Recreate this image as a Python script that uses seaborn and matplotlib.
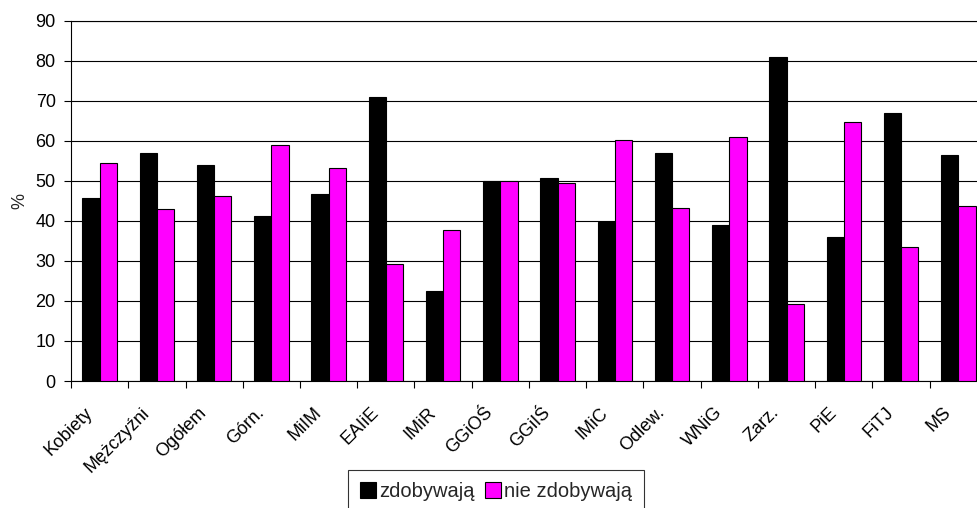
import pandas as pd
import seaborn as sns
import matplotlib.pyplot as plt
from matplotlib.ticker import FixedLocator
from matplotlib.transforms import ScaledTranslation

categories = ["Kobiety", "Mężczyźni", "Ogółem", "Górn.", "MiIM", "EAIiE", "IMiR", "GGiOŚ",
              "GGiIŚ", "IMiC", "Odlew.", "WNiG", "Zarz.", "PiE", "FiTJ", "MS"]
zdobywaja = [45.7, 56.9, 53.9, 41.3, 46.8, 70.8, 22.4, 50.0,
             50.6, 39.8, 56.8, 38.9, 81.0, 35.9, 66.8, 56.4]
nie_zdobywaja = [54.3, 43.0, 46.1, 58.8, 53.2, 29.3, 37.7, 50.0,
                 49.5, 60.2, 43.2, 61.0, 19.2, 64.7, 33.4, 43.7]
series = ["zdobywają", "nie zdobywają"]

df = pd.DataFrame({
    "kat": categories * 2,
    "val": zdobywaja + nie_zdobywaja,
    "grupa": [series[0]] * len(categories) + [series[1]] * len(categories),
})

sns.set_style("white")
plt.rcParams['font.family'] = ['Liberation Sans', 'DejaVu Sans']

fig = plt.figure(figsize=(9.78, 5.08), dpi=100)
ax = fig.add_axes([71 / 978, 1 - 381 / 508, (987 - 71) / 978, (381 - 20.5) / 508])

sns.barplot(data=df, x="kat", y="val", hue="grupa", palette=["#000000", "#FF00FF"],
            width=0.6, edgecolor="black", linewidth=0.8, saturation=1, ax=ax, zorder=3)

ax.set_ylim(0, 90)
ax.set_xlim(-0.5, len(categories) - 0.5)
ax.set_yticks(range(0, 91, 10))
ax.yaxis.grid(True, color="black", linewidth=0.8, zorder=0)
ax.set_axisbelow(True)

# ticks between groups, labels at group centres
ax.xaxis.set_minor_locator(FixedLocator([i - 0.5 for i in range(len(categories) + 1)]))
ax.tick_params(axis="x", which="major", length=0, pad=21)
ax.tick_params(axis="x", which="minor", length=5, width=0.8, color="black", direction="out", bottom=True)
ax.tick_params(axis="y", length=5, width=0.8, color="black", direction="out", left=True, pad=6)
ax.tick_params(labelsize=13, colors="black")
shift = ScaledTranslation(-10 / 100, 0, fig.dpi_scale_trans)
for lab in ax.get_xticklabels():
    lab.set_rotation(45)
    lab.set_ha("right")
    lab.set_va("center")
    lab.set_rotation_mode("anchor")
    lab.set_transform(lab.get_transform() + shift)

for s in ["left", "bottom", "top"]:
    ax.spines[s].set_color("black")
    ax.spines[s].set_linewidth(0.8)
ax.spines["right"].set_visible(False)

ax.set_xlabel("")
ax.set_ylabel("%", fontsize=13, labelpad=5)

ax.get_legend().remove()
handles, labels = ax.get_legend_handles_labels()
leg = fig.legend(handles, labels, loc="upper center", bbox_to_anchor=(496 / 978, 1 - 470 / 508),
                 ncol=2, frameon=True, fancybox=False, edgecolor="black", fontsize=14.5,
                 handlelength=0.8, handleheight=0.8, handletextpad=0.15, columnspacing=0.5,
                 borderpad=0.6, borderaxespad=0)
leg.get_frame().set_linewidth(0.8)

fig.savefig("out.png", dpi=100)
